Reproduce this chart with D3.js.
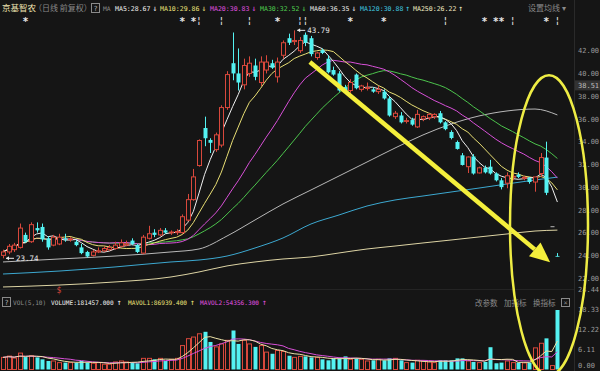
<!DOCTYPE html>
<html>
<head>
<meta charset="UTF-8">
<title>京基智农 日线</title>
<script src="https://cdn.jsdelivr.net/npm/d3@7"></script>
<style>
    body { margin: 0; background: #151515; }
    svg { display: block; }
    text { font-family: "DejaVu Sans Mono", monospace; }
    .cn { font-family: "Noto Sans CJK SC", sans-serif; }
</style>
</head>
<body>
<div id="chart"></div>
<script>

// daily candles, index 0..99 (oldest -> newest)
var opens = [24.0,24.3,24.5,24.7,25.8,25.2,26.4,26.5,25.5,24.9,
             25.0,25.5,25.4,25.2,24.7,24.3,24.0,24.3,24.4,24.5,
             24.6,24.8,24.9,25.3,24.9,24.2,25.5,26.0,25.8,26.2,
             26.0,26.0,26.0,27.1,28.9,31.9,35.2,34.15,33.3,33.7,
             37.0,40.9,40.0,39.0,40.0,40.7,39.2,40.3,40.9,39.7,
             41.6,43.1,42.8,42.0,43.4,43.1,41.4,42.05,41.3,40.3,
             40.0,38.8,38.5,39.9,38.6,38.7,38.6,38.4,38.4,37.8,
             36.2,36.3,35.8,35.9,35.3,36.0,36.1,36.2,36.5,35.7,
             34.85,33.97,32.8,31.8,32.7,31.25,31.7,31.8,31.2,30.6,
             30.35,30.9,31.1,30.8,30.8,30.45,31.2,32.6,26.55,23.95];
var highs = [24.5,25.0,25.1,26.8,26.0,26.9,26.9,26.8,25.7,25.8,
             25.9,25.9,25.6,25.4,25.0,24.4,24.5,24.7,24.8,24.9,
             25.2,25.4,25.3,25.5,25.0,25.8,26.6,26.3,26.4,26.4,
             26.2,26.3,27.6,29.4,31.6,34.2,36.2,34.3,34.8,37.2,
             40.2,43.6,42.2,41.3,41.5,41.3,41.5,41.6,41.2,41.4,
             42.9,43.5,43.79,43.2,43.6,43.3,41.9,42.2,41.6,40.6,
             40.2,39.0,39.5,40.0,39.0,39.2,38.8,38.9,38.6,38.0,
             36.7,36.6,36.1,36.1,36.8,36.3,36.5,36.5,36.7,35.8,
             35.0,34.1,33.0,32.7,32.9,31.8,31.9,32.4,31.3,30.8,
             31.3,31.2,31.3,31.0,30.9,30.9,33.0,34.0,26.55,24.2];
var lows = [23.74,24.1,24.3,24.6,25.1,25.1,26.0,25.2,24.5,24.8,
            24.9,25.2,25.2,24.8,24.1,23.8,23.9,24.2,24.3,24.4,
            24.5,24.7,24.8,24.9,24.2,24.1,25.4,25.6,25.7,25.9,
            25.8,25.8,25.9,27.0,28.8,31.8,33.6,33.0,33.1,33.5,
            36.8,39.4,38.5,38.6,39.7,39.4,38.9,40.0,40.4,39.2,
            41.3,42.5,42.5,41.8,42.4,41.5,41.2,41.7,40.0,39.8,
            38.4,38.3,38.3,38.6,38.4,38.5,38.3,38.2,37.7,36.2,
            36.0,35.6,35.6,35.4,35.2,35.8,35.9,36.0,35.6,35.0,
            34.2,33.3,31.9,31.24,31.1,31.2,31.2,31.1,30.5,29.8,
            29.9,30.6,30.8,30.6,30.3,29.6,30.9,29.3,26.55,23.9];
var closes = [24.3,24.8,24.9,26.4,25.2,26.7,26.2,25.4,24.7,25.6,
              25.6,25.4,25.45,24.9,24.2,23.9,24.3,24.4,24.6,24.7,
              24.9,25.1,25.0,25.0,24.3,25.6,25.9,25.8,26.2,26.0,
              26.05,26.1,27.4,28.9,30.9,34.1,34.3,33.9,34.6,37.0,
              39.9,40.0,39.2,40.7,40.9,39.7,41.0,41.0,40.5,41.0,
              42.7,42.7,42.9,42.9,42.7,41.7,41.8,41.8,40.1,39.9,
              38.5,38.4,39.2,38.7,38.9,38.75,38.4,38.6,37.8,36.3,
              36.5,35.7,35.85,35.5,36.4,36.2,36.4,36.4,35.7,35.1,
              34.32,33.36,31.95,32.65,31.2,31.7,31.3,31.2,30.6,30.0,
              31.0,30.95,30.9,30.85,30.45,30.9,32.6,29.5,26.55,23.9];
// volume, 10k lots
var volumes = [3.7,4.1,3.5,5.0,3.8,4.2,3.7,3.1,2.6,2.6,
               2.1,2.1,2.1,2.1,2.6,2.1,1.9,2.1,1.6,1.6,
               2.3,2.6,2.3,2.1,1.9,3.4,3.4,3.1,3.4,2.6,
               3.1,3.4,7.3,9.4,9.9,10.9,11.5,8.4,6.9,7.8,
               8.9,11.9,7.8,8.9,7.8,6.9,7.3,5.3,4.8,5.8,
               5.5,4.2,3.7,4.0,4.0,3.7,3.7,3.1,2.8,3.4,
               3.4,4.0,3.1,3.4,3.1,2.6,2.8,3.1,2.8,3.4,
               3.4,2.8,2.1,2.1,2.8,2.6,2.3,2.1,2.8,2.8,
               2.8,3.4,3.4,2.6,2.3,2.1,2.3,6.8,1.9,2.1,
               2.6,2.1,2.1,2.0,2.1,6.6,8.0,9.5,1.2,18.15];

// long moving averages at these candle indices
var longMaIdx = [0,10,20,30,35,40,45,50,55,60,65,70,75,80,85,90,95,99];
var ma60Vals  = [23.42,23.68,23.94,24.30,24.56,25.70,27.11,28.52,29.75,30.98,32.21,33.44,34.59,35.55,36.26,36.70,36.87,36.35];
var ma120Vals = [22.36,22.62,22.98,23.42,23.59,23.94,24.65,25.53,26.76,27.55,28.34,28.87,29.22,29.57,29.92,30.28,30.63,30.88];
var ma250Vals = [21.22,21.39,21.66,22.10,22.54,23.07,23.42,23.68,23.86,24.21,24.56,24.82,25.09,25.35,25.62,25.88,26.14,26.22];

var maNames  = ["MA5","MA10","MA20","MA30","MA60","MA120","MA250"];
var maLegend = ["28.67","29.86","30.83","32.52","36.35","30.88","26.22"];
var maArrows = ["↓","↓","↓","↓","↓","↑","↑"];

var priceTicks = [42,40,38,36,34,32,30,28,26,24,22];
var volTicks = [0,6.11,12.22,18.33,24.44];

// event markers above the candles
var markIdx = [4,32,34,35,39,44,49,53,54,62,68,79,86,88,89,91,97,99];
var markSym = ["*","*","*","¦","¦","¦","*","¦","¦","*","*","¦","*","*","*","¦","*","¦"];

var BG = "#151515", UP = "#d8483c", DOWN = "#54f2f2";
var maColors = ["#f0f0f0","#e8de74","#d850d8","#4cc44c","#b8b8b8","#3ca8d0","#ddd4a4"];

var svg = d3.select("#chart").append("svg").attr("width", 600).attr("height", 371);
svg.append("rect").attr("width", 600).attr("height", 371).attr("fill", BG);

var x = d3.scaleLinear().domain([0, 99]).range([3, 557.4]);
var y = d3.scaleLinear().domain([22, 42]).range([278.1, 50.7]);
var yv = d3.scaleLinear().domain([0, 18.15]).range([369.5, 310]);

var px = function (i) { return Math.round(x(i)) + 0.5; };

// panel frame
svg.append("line").attr("x1", 574.5).attr("x2", 574.5).attr("y1", 0).attr("y2", 371).attr("stroke", "#2a2a2a");
svg.append("line").attr("x1", 0).attr("x2", 574).attr("y1", 289.5).attr("y2", 289.5).attr("stroke", "#242424");

svg.append("clipPath").attr("id", "mainClip").append("rect").attr("x", 0).attr("y", 26).attr("width", 574).attr("height", 263);
svg.append("clipPath").attr("id", "volClip").append("rect").attr("x", 0).attr("y", 290).attr("width", 574).attr("height", 81);

var idx = d3.range(closes.length);

// moving averages over available closes
function movingAvg(arr, n) {
    return arr.map(function (d, i) { return d3.mean(arr.slice(Math.max(0, i - n + 1), i + 1)); });
}

var main = svg.append("g").attr("clip-path", "url(#mainClip)");

var lineIdx = d3.line().x(function (d) { return x(d[0]); }).y(function (d) { return y(d[1]); });
var lineSmooth = d3.line().x(function (d) { return x(d[0]); }).y(function (d) { return y(d[1]); }).curve(d3.curveMonotoneX);

var longSets = [ma250Vals, ma120Vals, ma60Vals];
[6, 5, 4].forEach(function (k, j) {
    main.append("path")
        .datum(longMaIdx.map(function (i, m) { return [i, longSets[j][m]]; }))
        .attr("d", lineSmooth).attr("fill", "none").attr("stroke", maColors[k]).attr("stroke-width", 1);
});
[30, 20, 10, 5].forEach(function (n) {
    var k = [5, 10, 20, 30].indexOf(n);
    var ma = movingAvg(closes, n);
    main.append("path")
        .datum(idx.map(function (i) { return [i, ma[i]]; }))
        .attr("d", lineIdx).attr("fill", "none").attr("stroke", maColors[k]).attr("stroke-width", 1);
});

// candles
var candle = main.selectAll("g.candle").data(idx).enter().append("g");
candle.append("line")
    .attr("x1", px).attr("x2", px)
    .attr("y1", function (i) { return y(highs[i]); })
    .attr("y2", function (i) { return y(lows[i]); })
    .attr("stroke", function (i) { return closes[i] > opens[i] ? UP : closes[i] < opens[i] ? DOWN : "#e0e0e0"; });
candle.append("rect")
    .attr("x", function (i) { return px(i) - 2; })
    .attr("width", 4)
    .attr("y", function (i) { return y(Math.max(opens[i], closes[i])); })
    .attr("height", function (i) { return Math.max(0.8, Math.abs(y(opens[i]) - y(closes[i]))); })
    .attr("fill", function (i) { return closes[i] > opens[i] ? BG : closes[i] < opens[i] ? DOWN : "#e0e0e0"; })
    .attr("stroke", function (i) { return closes[i] > opens[i] ? UP : "none"; })
    .attr("stroke-width", 1);

// high / low marks
var hi = d3.maxIndex(highs), lo = d3.minIndex(lows);
[[hi, highs[hi]], [lo, lows[lo]]].forEach(function (m) {
    var yy = y(m[1]), x0 = x(m[0]) + 3;
    main.append("line").attr("x1", x0).attr("x2", x0 + 8).attr("y1", yy).attr("y2", yy).attr("stroke", "#e8e8e8");
    main.append("path").attr("d", "M" + x0 + "," + yy + "l3,-2l0,4z").attr("fill", "#e8e8e8");
    main.append("text").attr("x", x0 + 10).attr("y", yy + 3).attr("font-size", 7.5).attr("fill", "#e8e8e8").text(m[1].toFixed(2));
});

// event markers row
svg.selectAll("text.mark").data(markIdx).enter().append("text")
    .attr("x", function (i) { return x(i); })
    .attr("y", function (d, j) { return markSym[j] === "*" ? 25 : 23; })
    .attr("text-anchor", "middle")
    .attr("font-size", function (d, j) { return markSym[j] === "*" ? 10 : 8; })
    .attr("font-weight", "bold")
    .attr("fill", "#e8e8e8")
    .text(function (d, j) { return markSym[j]; });

// price axis
var ya = svg.append("g").attr("transform", "translate(576,0)")
    .call(d3.axisRight(y).tickValues(priceTicks).tickSize(0).tickPadding(2).tickFormat(d3.format(".2f")));
ya.select(".domain").remove();
ya.selectAll("text").attr("fill", "#9a9a9a").attr("font-size", 7).attr("font-family", "DejaVu Sans Mono");

// latest price tag
var tagY = y(38.51) - 5;
svg.append("rect").attr("x", 575).attr("y", tagY - 5).attr("width", 25).attr("height", 10).attr("fill", "#333");
svg.append("text").attr("x", 578).attr("y", tagY + 3).attr("font-size", 7).attr("fill", "#bdbdbd").text("38.51");

// volume panel
var vol = svg.append("g").attr("clip-path", "url(#volClip)");
vol.selectAll("rect.v").data(idx).enter().append("rect")
    .attr("x", function (i) { return px(i) - 2; })
    .attr("width", 4)
    .attr("y", function (i) { return yv(volumes[i]); })
    .attr("height", function (i) { return yv(0) - yv(volumes[i]); })
    .attr("fill", function (i) { return closes[i] >= opens[i] ? BG : DOWN; })
    .attr("stroke", function (i) { return closes[i] >= opens[i] ? UP : "none"; });

var lineV = d3.line().x(function (d) { return x(d[0]); }).y(function (d) { return yv(d[1]); });
[[10, "#d850d8"], [5, "#ece2a8"]].forEach(function (p) {
    var mv = movingAvg(volumes, p[0]);
    vol.append("path").datum(idx.map(function (i) { return [i, mv[i]]; }))
        .attr("d", lineV).attr("fill", "none").attr("stroke", p[1]).attr("stroke-width", 1);
});

var va = svg.append("g").attr("transform", "translate(576,0)")
    .call(d3.axisRight(yv).tickValues(volTicks).tickSize(0).tickPadding(2).tickFormat(d3.format(".2f")));
va.select(".domain").remove();
va.selectAll("text").attr("fill", "#9a9a9a").attr("font-size", 7).attr("font-family", "DejaVu Sans Mono")
    .attr("dy", function (d) { return d === 0 ? "-0.3em" : "0.32em"; });

// fixed-pitch legend text: font size chosen so a glyph is `pitch` px wide
function legendText(str, x0, y0, color, pitch) {
    var t = svg.append("text").attr("x", x0).attr("y", y0).attr("font-size", pitch / 0.602).attr("fill", color).text(str);
    return x0 + t.node().getComputedTextLength();
}

// top legend
svg.append("text").attr("class", "cn").attr("x", 2).attr("y", 11).attr("font-size", 8.5).attr("fill", "#efe4b0").text("京基智农");
svg.append("text").attr("class", "cn").attr("x", 34).attr("y", 11).attr("font-size", 8).attr("fill", "#8a8a8a").text("（日线 前复权）");
function helpBox(x0, y0) {
    svg.append("rect").attr("x", x0 + 0.5).attr("y", y0 + 0.5).attr("width", 8).attr("height", 9).attr("fill", "none").attr("stroke", "#8a8a8a");
    svg.append("text").attr("x", x0 + 4.5).attr("y", y0 + 7.5).attr("text-anchor", "middle").attr("font-size", 7).attr("fill", "#bbb").text("?");
}
helpBox(91, 3);
legendText("MA", 103, 11, "#8a8a8a", 3.8);
var legX = [115, 160, 210, 260, 310, 360, 413];
var legC = ["#f0f0f0","#ece27a","#e050e0","#50d050","#ececec","#40c8e0","#f2ecc4"];
maNames.forEach(function (n, k) {
    var end = legendText(n + ":" + maLegend[k], legX[k], 11, legC[k], 3.95);
    svg.append("text").attr("x", end + 2).attr("y", 11).attr("font-size", 8).attr("fill", legC[k]).text(maArrows[k]);
});
svg.append("text").attr("class", "cn").attr("x", 528).attr("y", 11).attr("font-size", 8).attr("fill", "#8a8a8a").text("设置均线 ▾");

// volume legend
helpBox(2, 297);
legendText("VOL(5,10)", 13, 305, "#8a8a8a", 3.7);
var volLeg = [["VOLUME:181457.000", "#f0f0f0", 51], ["MAVOL1:86939.400", "#ece27a", 128], ["MAVOL2:54356.300", "#e050e0", 200]];
volLeg.forEach(function (v) {
    var end = legendText(v[0], v[2], 305, v[1], 3.7);
    svg.append("text").attr("x", end + 3).attr("y", 305).attr("font-size", 8).attr("fill", v[1]).text("↑");
});
[["改参数", 475], ["加指标", 504], ["换指标", 533]].forEach(function (b) {
    svg.append("text").attr("class", "cn").attr("x", b[1]).attr("y", 306).attr("font-size", 7.5).attr("fill", "#8a8a8a").text(b[0]);
});
svg.append("rect").attr("x", 561.5).attr("y", 298.5).attr("width", 8).attr("height", 8).attr("fill", "none").attr("stroke", "#8a8a8a");
svg.append("text").attr("x", 565.5).attr("y", 305).attr("text-anchor", "middle").attr("font-size", 7).attr("fill", "#8a8a8a").text("×");

// red marker between panels
svg.append("text").attr("x", x(10)).attr("y", 293).attr("text-anchor", "middle").attr("font-size", 8).attr("fill", "#d8483c").text("$");

// yellow annotations: downtrend arrow and circled last days
var ax0 = x(54.8), ay0 = y(41.0), ax1 = x(97.7), ay1 = y(23.4);
var L = Math.hypot(ax1 - ax0, ay1 - ay0), ux = (ax1 - ax0) / L, uy = (ay1 - ay0) / L;
var head = 20, half = 9;
var bx = ax1 - ux * head, by = ay1 - uy * head;
svg.append("line").attr("x1", ax0).attr("y1", ay0).attr("x2", bx).attr("y2", by)
    .attr("stroke", "#f4ef3c").attr("stroke-width", 4.5);
svg.append("path")
    .attr("d", "M" + ax1 + "," + ay1 + "L" + (bx - uy * half) + "," + (by + ux * half) + "L" + (bx + uy * half) + "," + (by - ux * half) + "Z")
    .attr("fill", "#f4ef3c");
svg.append("ellipse").attr("cx", x(97.5)).attr("cy", y(26.65)).attr("rx", 39).attr("ry", 150)
    .attr("fill", "none").attr("stroke", "#eeec44").attr("stroke-width", 2.5);

</script>
</body>
</html>
